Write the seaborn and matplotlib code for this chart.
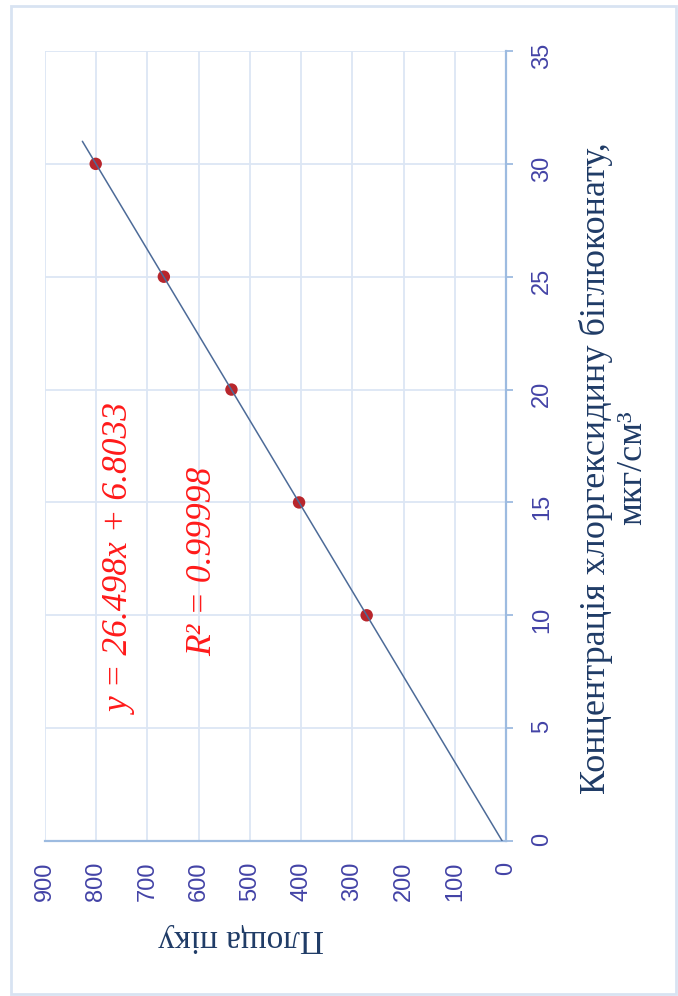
import numpy as np
import pandas as pd
import matplotlib.pyplot as plt
import seaborn as sns
from matplotlib.patches import Rectangle

# calibration data (chart is shown turned 90 degrees, so area runs along x, concentration along y)
concentration = [10, 15, 20, 25, 30]
peak_area = [272, 404, 536, 668, 801]
trend_range = [0, 31]
equation_text = 'y = 26.498x + 6.8033'
r2_text = 'R² = 0.99998'
conc_label = 'Концентрація хлоргексидину біглюконату,\nмкг/см³'
area_label = 'Площа піку'

df = pd.DataFrame({'conc': concentration, 'area': peak_area})

# linear trendline area = k*conc + b
k, b = np.polyfit(df['conc'], df['area'], 1)
trend = pd.DataFrame({'conc': trend_range})
trend['area'] = k * trend['conc'] + b

sns.set_style('white')
plt.rcParams['font.family'] = ['Liberation Sans', 'DejaVu Sans']

grid_col = '#dce6f4'
axis_col = '#9dbbe0'
tick_col = '#4343a6'
title_col = '#1f3b66'

fig = plt.figure(figsize=(6.78, 9.96), dpi=100)
fig.patches.append(Rectangle((11 / 678, 2 / 996), 665 / 678, 988 / 996, transform=fig.transFigure,
                             fill=False, edgecolor='#d8e3f2', linewidth=2))
ax = fig.add_axes([45 / 678, 1 - 841 / 996, 461 / 678, 790 / 996])

sns.scatterplot(data=df, x='area', y='conc', ax=ax, color='#b8262c', s=80,
                edgecolor='none', zorder=3)
sns.lineplot(data=trend, x='area', y='conc', ax=ax, color='#4d6b98', linewidth=1.1,
             sort=False, zorder=4)

ax.set_xlim(900, 0)
ax.set_ylim(0, 35)
ax.set_xticks(np.arange(0, 901, 100))
ax.set_yticks(np.arange(0, 36, 5))
ax.grid(True, color=grid_col, linewidth=1.3)
ax.set_axisbelow(True)

for s in ['top', 'left']:
    ax.spines[s].set_visible(False)
for s in ['right', 'bottom']:
    ax.spines[s].set_color(axis_col)
    ax.spines[s].set_linewidth(1.6)

ax.yaxis.tick_right()
ax.tick_params(axis='both', colors=axis_col, length=5, width=1.3, direction='out',
               labelsize=17, labelcolor=tick_col)
ax.tick_params(axis='y', labelrotation=90, pad=13)
ax.tick_params(axis='x', labelrotation=90, pad=10)

ax.set_xlabel(area_label, rotation=180, fontsize=24, color=title_col,
              family=['Liberation Serif'], ha='center', va='center')
ax.xaxis.set_label_coords((241 - 45) / 461, (841 - 938) / 790)
ax.yaxis.set_label_position('right')
ax.set_ylabel(conc_label, rotation=90, fontsize=26, color=title_col,
              family=['Liberation Serif'], ha='center', va='center', linespacing=1.15)
ax.yaxis.set_label_coords((614 - 45) / 461, (841 - 468) / 790)

# trendline equation and R² (placed in data units of the turned chart)
ax.text(750, 12.5, equation_text, rotation=90,
        fontsize=25.5, color='#ff1a1a', family=['Liberation Serif'], style='italic',
        ha='center', va='center')
ax.text(593, 12.4, r2_text, rotation=90,
        fontsize=25.5, color='#ff1a1a', family=['Liberation Serif'], style='italic',
        ha='center', va='center')

plt.savefig('out.png', dpi=100, facecolor='white')
